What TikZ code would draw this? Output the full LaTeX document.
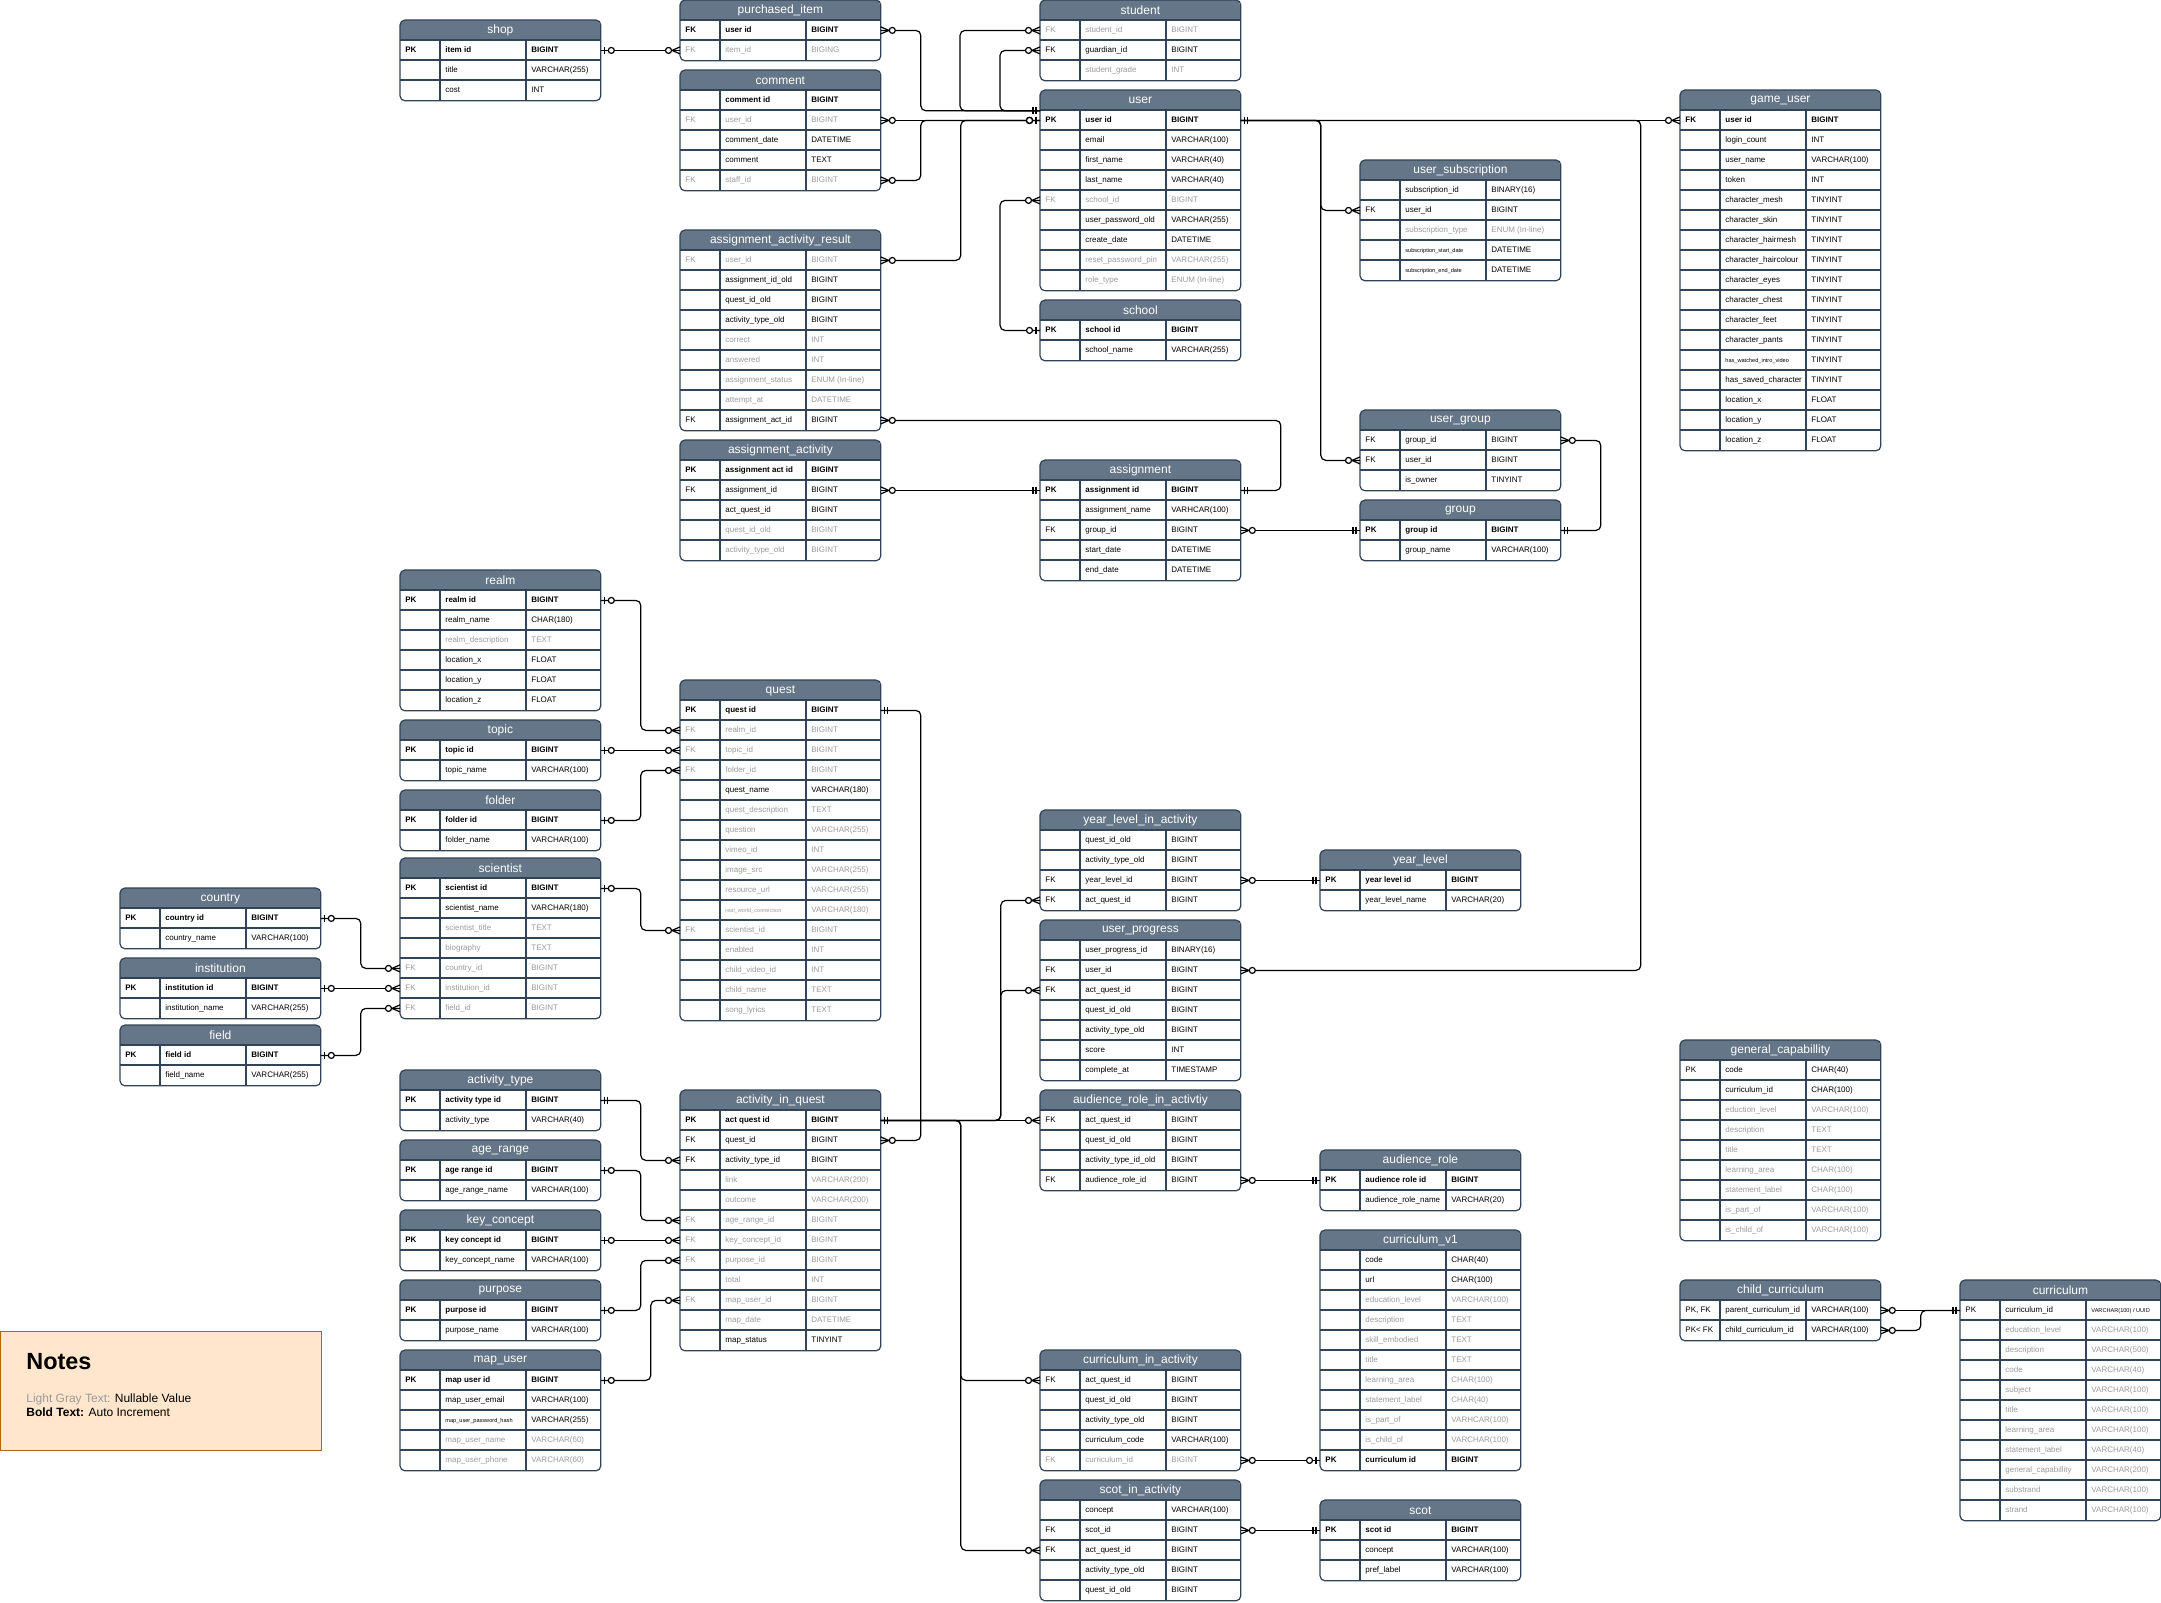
\documentclass[tikz,border=0pt]{standalone}
\usepackage{fontspec}
\setmainfont{Liberation Sans}
\usepackage{tikz}
\usetikzlibrary{calc,decorations.markings}
\usepackage{xcolor}

\definecolor{hdrfill}{HTML}{647687}
\definecolor{tblline}{HTML}{314354}
\definecolor{txtgray}{HTML}{9A9A9A}
\definecolor{notefill}{HTML}{FFE6CC}
\definecolor{noteline}{HTML}{B46504}

\newcommand\rowfont{\fontsize{4}{4.8}\selectfont}
\newcommand\hdfont{\fontsize{6}{7}\selectfont}
\newcommand\smtxt[1]{{\fontsize{2.8}{3.4}\selectfont #1}}
\newcommand\rowfmt[2]{\if b#1\textbf{#2}\else\if g#1\textcolor{txtgray}{#2}\else #2\fi\fi}

% crow's foot ends, #1 = 1 at path end, -1 at path start
\newcommand\mkmany[1]{\draw[sharp corners] (0,3.5) -- ({-8*(#1)},0) -- (0,-3.5);
  \draw[sharp corners, fill=white] ({-11.5*(#1)},0) circle (3);}
\newcommand\mkone[1]{\draw[sharp corners] ({-4*(#1)},-3.5) -- ({-4*(#1)},3.5) ({-7*(#1)},-3.5) -- ({-7*(#1)},3.5);}
\newcommand\mkzone[1]{\draw[sharp corners] ({-4*(#1)},-3.5) -- ({-4*(#1)},3.5);
  \draw[sharp corners, fill=white] ({-10.5*(#1)},0) circle (3);}

% table: name, x, y, title, rows key/name/type/style
\newcommand\ertable[5]{%
  \fill[hdrfill, rounded corners=2.5pt] (#2,#3) rectangle ++(200,20);
  \fill[hdrfill] (#2,{#3+10}) rectangle ++(200,10);
  \node[tblhead, anchor=north west] (#1) at (#2,#3) {#4};
  \foreach \cK/\cN/\cT/\cS [count=\i] in {#5}{%
    \node[rowbox, anchor=north west] (#1-\i) at (#2,{#3+20*\i}) {};
    \draw[tblrule] (#1-\i.north west) -- (#1-\i.north east);
    \node[celltxt] (#1-\i-k) at ($(#1-\i.west)+(5,0)$) {\rowfmt{\cS}{\cK}};
    \node[celltxt] (#1-\i-n) at ($(#1-\i.west)+(45,0)$) {\rowfmt{\cS}{\cN}};
    \node[celltxt] (#1-\i-t) at ($(#1-\i.west)+(131,0)$) {\rowfmt{\cS}{\cT}};
    \xdef\ernrows{\i}%
  }
  \draw[tblrule] ($(#1-1.north west)+(40,0)$) -- ($(#1-\ernrows.south west)+(40,0)$)
    ($(#1-1.north west)+(126,0)$) -- ($(#1-\ernrows.south west)+(126,0)$);
  \draw[tblrule, rounded corners=2.5pt] (#1.north west) rectangle (#1-\ernrows.south east);
}

\begin{document}
\catcode`\_=12
\begin{tikzpicture}[
    x=0.5pt, y=-0.5pt,
    tblhead/.style={minimum width=100pt, minimum height=10pt, inner sep=0pt, text=white, font=\hdfont},
    rowbox/.style={minimum width=100pt, minimum height=10pt, inner sep=0pt},
    celltxt/.style={anchor=west, inner sep=0pt, font=\rowfont, text height=3pt, text depth=1pt},
    tblrule/.style={draw=tblline, line width=0.6pt},
    rel/.style={draw=black, line width=0.6pt, rounded corners=2.5pt},
    zm-s/.style={postaction={decorate, decoration={markings, mark=at position 0 with {\mkmany{-1}}}}},
    zm-e/.style={postaction={decorate, decoration={markings, mark=at position 1 with {\mkmany{1}}}}},
    mo-s/.style={postaction={decorate, decoration={markings, mark=at position 0 with {\mkone{-1}}}}},
    mo-e/.style={postaction={decorate, decoration={markings, mark=at position 1 with {\mkone{1}}}}},
    zo-s/.style={postaction={decorate, decoration={markings, mark=at position 0 with {\mkzone{-1}}}}},
    zo-e/.style={postaction={decorate, decoration={markings, mark=at position 1 with {\mkzone{1}}}}},
    notebox/.style={draw=noteline, fill=notefill, line width=0.6pt, minimum width=160.5pt, minimum height=59.5pt, inner sep=0pt}
]
    \useasboundingbox (0,0) rectangle (2161,1602);

    % User side
    \ertable{shop}{400}{20}{shop}{PK/item id/BIGINT/b,/title/VARCHAR(255)/n,/cost/INT/n}
    \ertable{pitem}{680}{0}{purchased_item}{FK/user id/BIGINT/b,FK/item_id/BIGING/g}
    \ertable{comment}{680}{70}{comment}{/comment id/BIGINT/b,FK/user_id/BIGINT/g,/comment_date/DATETIME/n,/comment/TEXT/n,FK/staff_id/BIGINT/g}
    \ertable{aar}{680}{230}{assignment_activity_result}{FK/user_id/BIGINT/g,/assignment_id_old/BIGINT/n,/quest_id_old/BIGINT/n,/activity_type_old/BIGINT/n,/correct/INT/g,/answered/INT/g,/assignment_status/ENUM (In-line)/g,/attempt_at/DATETIME/g,FK/assignment_act_id/BIGINT/n}
    \ertable{aact}{680}{440}{assignment_activity}{PK/assignment act id/BIGINT/b,FK/assignment_id/BIGINT/n,/act_quest_id/BIGINT/n,/quest_id_old/BIGINT/g,/activity_type_old/BIGINT/g}
    \ertable{student}{1040}{0}{student}{FK/student_id/BIGINT/g,FK/guardian_id/BIGINT/n,/student_grade/INT/g}
    \ertable{user}{1040}{90}{user}{PK/user id/BIGINT/b,/email/VARCHAR(100)/n,/first_name/VARCHAR(40)/n,/last_name/VARCHAR(40)/n,FK/school_id/BIGINT/g,/user_password_old/VARCHAR(255)/n,/create_date/DATETIME/n,/reset_password_pin/VARCHAR(255)/g,/role_type/ENUM (In-line)/g}
    \ertable{school}{1040}{300}{school}{PK/school id/BIGINT/b,/school_name/VARCHAR(255)/n}
    \ertable{assign}{1040}{460}{assignment}{PK/assignment id/BIGINT/b,/assignment_name/VARHCAR(100)/n,FK/group_id/BIGINT/n,/start_date/DATETIME/n,/end_date/DATETIME/n}
    \ertable{usub}{1360}{160}{user_subscription}{/subscription_id/BINARY(16)/n,FK/user_id/BIGINT/n,/subscription_type/ENUM (In-line)/g,/\smtxt{subscription_start_date}/DATETIME/n,/\smtxt{subscription_end_date}/DATETIME/n}
    \ertable{ugroup}{1360}{410}{user_group}{FK/group_id/BIGINT/n,FK/user_id/BIGINT/n,/is_owner/TINYINT/n}
    \ertable{group}{1360}{500}{group}{PK/group id/BIGINT/b,/group_name/VARCHAR(100)/n}
    \ertable{guser}{1680}{90}{game_user}{FK/user id/BIGINT/b,/login_count/INT/n,/user_name/VARCHAR(100)/n,/token/INT/n,/character_mesh/TINYINT/n,/character_skin/TINYINT/n,/character_hairmesh/TINYINT/n,/character_haircolour/TINYINT/n,/character_eyes/TINYINT/n,/character_chest/TINYINT/n,/character_feet/TINYINT/n,/character_pants/TINYINT/n,/\smtxt{has_watched_intro_video}/TINYINT/n,/has_saved_character/TINYINT/n,/location_x/FLOAT/n,/location_y/FLOAT/n,/location_z/FLOAT/n}

    % Quest side
    \ertable{realm}{400}{570}{realm}{PK/realm id/BIGINT/b,/realm_name/CHAR(180)/n,/realm_description/TEXT/g,/location_x/FLOAT/n,/location_y/FLOAT/n,/location_z/FLOAT/n}
    \ertable{topic}{400}{720}{topic}{PK/topic id/BIGINT/b,/topic_name/VARCHAR(100)/n}
    \ertable{folder}{400}{790}{folder}{PK/folder id/BIGINT/b,/folder_name/VARCHAR(100)/n}
    \ertable{sci}{400}{858}{scientist}{PK/scientist id/BIGINT/b,/scientist_name/VARCHAR(180)/n,/scientist_title/TEXT/g,/biography/TEXT/g,FK/country_id/BIGINT/g,FK/institution_id/BIGINT/g,FK/field_id/BIGINT/g}
    \ertable{country}{120}{888}{country}{PK/country id/BIGINT/b,/country_name/VARCHAR(100)/n}
    \ertable{inst}{120}{958}{institution}{PK/institution id/BIGINT/b,/institution_name/VARCHAR(255)/n}
    \ertable{field}{120}{1025}{field}{PK/field id/BIGINT/b,/field_name/VARCHAR(255)/n}
    \ertable{quest}{680}{680}{quest}{PK/quest id/BIGINT/b,FK/realm_id/BIGINT/g,FK/topic_id/BIGINT/g,FK/folder_id/BIGINT/g,/quest_name/VARCHAR(180)/n,/quest_description/TEXT/g,/question/VARCHAR(255)/g,/vimeo_id/INT/g,/image_src/VARCHAR(255)/g,/resource_url/VARCHAR(255)/g,/\smtxt{real_world_connection}/VARCHAR(180)/g,FK/scientist_id/BIGINT/g,/enabled/INT/g,/child_video_id/INT/g,/child_name/TEXT/g,/song_lyrics/TEXT/g}

    % Activity side
    \ertable{atype}{400}{1070}{activity_type}{PK/activity type id/BIGINT/b,/activity_type/VARCHAR(40)/n}
    \ertable{arange}{400}{1140}{age_range}{PK/age range id/BIGINT/b,/age_range_name/VARCHAR(100)/n}
    \ertable{kconcept}{400}{1210}{key_concept}{PK/key concept id/BIGINT/b,/key_concept_name/VARCHAR(100)/n}
    \ertable{purpose}{400}{1280}{purpose}{PK/purpose id/BIGINT/b,/purpose_name/VARCHAR(100)/n}
    \ertable{mapuser}{400}{1350}{map_user}{PK/map user id/BIGINT/b,/map_user_email/VARCHAR(100)/n,/\smtxt{map_user_password_hash}/VARCHAR(255)/n,/map_user_name/VARCHAR(60)/g,/map_user_phone/VARCHAR(60)/g}
    \ertable{aiq}{680}{1090}{activity_in_quest}{PK/act quest id/BIGINT/b,FK/quest_id/BIGINT/n,FK/activity_type_id/BIGINT/n,/link/VARCHAR(200)/g,/outcome/VARCHAR(200)/g,FK/age_range_id/BIGINT/g,FK/key_concept_id/BIGINT/g,FK/purpose_id/BIGINT/g,/total/INT/g,FK/map_user_id/BIGINT/g,/map_date/DATETIME/g,/map_status/TINYINT/n}
    \ertable{yla}{1040}{810}{year_level_in_activity}{/quest_id_old/BIGINT/n,/activity_type_old/BIGINT/n,FK/year_level_id/BIGINT/n,FK/act_quest_id/BIGINT/n}
    \ertable{ylevel}{1320}{850}{year_level}{PK/year level id/BIGINT/b,/year_level_name/VARCHAR(20)/n}
    \ertable{uprog}{1040}{920}{user_progress}{/user_progress_id/BINARY(16)/n,FK/user_id/BIGINT/n,FK/act_quest_id/BIGINT/n,/quest_id_old/BIGINT/n,/activity_type_old/BIGINT/n,/score/INT/n,/complete_at/TIMESTAMP/n}
    \ertable{aria}{1040}{1090}{audience_role_in_activtiy}{FK/act_quest_id/BIGINT/n,/quest_id_old/BIGINT/n,/activity_type_id_old/BIGINT/n,FK/audience_role_id/BIGINT/n}
    \ertable{arole}{1320}{1150}{audience_role}{PK/audience role id/BIGINT/b,/audience_role_name/VARCHAR(20)/n}
    \ertable{cv1}{1320}{1230}{curriculum_v1}{/code/CHAR(40)/n,/url/CHAR(100)/n,/education_level/VARCHAR(100)/g,/description/TEXT/g,/skill_embodied/TEXT/g,/title/TEXT/g,/learning_area/CHAR(100)/g,/statement_label/CHAR(40)/g,/is_part_of/VARHCAR(100)/g,/is_child_of/VARCHAR(100)/g,PK/curriculum id/BIGINT/b}
    \ertable{cia}{1040}{1350}{curriculum_in_activity}{FK/act_quest_id/BIGINT/n,/quest_id_old/BIGINT/n,/activity_type_old/BIGINT/n,/curriculum_code/VARCHAR(100)/n,FK/curriculum_id/BIGINT/g}
    \ertable{sia}{1040}{1480}{scot_in_activity}{/concept/VARCHAR(100)/n,FK/scot_id/BIGINT/n,FK/act_quest_id/BIGINT/n,/activity_type_old/BIGINT/n,/quest_id_old/BIGINT/n}
    \ertable{scot}{1320}{1500}{scot}{PK/scot id/BIGINT/b,/concept/VARCHAR(100)/n,/pref_label/VARCHAR(100)/n}

    % Curriculum side
    \ertable{gcap}{1680}{1040}{general_capabillity}{PK/code/CHAR(40)/n,/curriculum_id/CHAR(100)/n,/eduction_level/VARCHAR(100)/g,/description/TEXT/g,/title/TEXT/g,/learning_area/CHAR(100)/g,/statement_label/CHAR(100)/g,/is_part_of/VARCHAR(100)/g,/is_child_of/VARCHAR(100)/g}
    \ertable{ccur}{1680}{1280}{child_curriculum}{{PK, FK}/parent_curriculum_id/VARCHAR(100)/n,PK< FK/child_curriculum_id/VARCHAR(100)/n}
    \ertable{curr}{1960}{1280}{curriculum}{PK/curriculum_id/{\smtxt{VARCHAR(100) / UUID}}/n,/education_level/VARCHAR(100)/g,/description/VARCHAR(500)/g,/code/VARCHAR(40)/g,/subject/VARCHAR(100)/g,/title/VARCHAR(100)/g,/learning_area/VARCHAR(100)/g,/statement_label/VARCHAR(40)/g,/general_capabillity/VARCHAR(200)/g,/substrand/VARCHAR(100)/g,/strand/VARCHAR(100)/g}

    % Relations to user
    \draw[rel, zo-s, zm-e] (shop-1.east) -- (pitem-2.west);
    \draw[rel, zm-s, mo-e] (pitem-1.east) -- ++(40,0) |- (user.south west);
    \draw[rel, zm-s, mo-e] (student-1.west) -- ++(-80,0) |- (user.south west);
    \draw[rel, zm-s, mo-e] (student-2.west) -- ++(-40,0) |- (user.south west);
    \draw[rel, zm-s, zo-e] (comment-2.east) -- (user-1.west);
    \draw[rel, zm-s, zo-e] (comment-5.east) -- ++(40,0) |- (user-1.west);
    \draw[rel, zm-s, zo-e] (aar-1.east) -- ++(80,0) |- (user-1.west);
    \draw[rel, zm-s, zo-e] (user-5.west) -- ++(-40,0) |- (school-1.west);
    \draw[rel, mo-s, zm-e] (user-1.east) -- (guser-1.west);
    \draw[rel, mo-s, zm-e] (user-1.east) -- ++(80,0) |- (usub-2.west);
    \draw[rel, mo-s, zm-e] (user-1.east) -- ++(80,0) |- (ugroup-2.west);
    \draw[rel, mo-s, zm-e] (user-1.east) -- ++(400,0) |- (uprog-2.east);

    % Assignments and groups
    \draw[rel, zm-s, mo-e] (aar-9.east) -| ($(assign-1.east)+(40,0)$) -- (assign-1.east);
    \draw[rel, zm-s, mo-e] (aact-2.east) -- (assign-1.west);
    \draw[rel, zm-s, mo-e] (assign-3.east) -- (group-1.west);
    \draw[rel, zm-s, mo-e] (ugroup-1.east) -| ($(group-1.east)+(40,0)$) -- (group-1.east);

    % Quest lookups
    \draw[rel, zo-s, zm-e] (realm-1.east) -- ++(40,0) |- (quest-2.west);
    \draw[rel, zo-s, zm-e] (topic-1.east) -- (quest-3.west);
    \draw[rel, zo-s, zm-e] (folder-1.east) -- ++(40,0) |- (quest-4.west);
    \draw[rel, zo-s, zm-e] (sci-1.east) -- ++(40,0) |- (quest-12.west);
    \draw[rel, zo-s, zm-e] (country-1.east) -- ++(40,0) |- (sci-5.west);
    \draw[rel, zo-s, zm-e] (inst-1.east) -- (sci-6.west);
    \draw[rel, zo-s, zm-e] (field-1.east) -- ++(40,0) |- (sci-7.west);

    % Activity lookups
    \draw[rel, mo-s, zm-e] (quest-1.east) -- ++(40,0) |- (aiq-2.east);
    \draw[rel, mo-s, zm-e] (atype-1.east) -- ++(40,0) |- (aiq-3.west);
    \draw[rel, zo-s, zm-e] (arange-1.east) -- ++(40,0) |- (aiq-6.west);
    \draw[rel, zo-s, zm-e] (kconcept-1.east) -- (aiq-7.west);
    \draw[rel, zo-s, zm-e] (purpose-1.east) -- ++(40,0) |- (aiq-8.west);
    \draw[rel, zo-s, zm-e] (mapuser-1.east) -- ++(50,0) |- (aiq-10.west);

    % Activity links
    \draw[rel, mo-s, zm-e] (aiq-1.east) -- ++(120,0) |- (yla-4.west);
    \draw[rel, mo-s, zm-e] (aiq-1.east) -- ++(120,0) |- (uprog-3.west);
    \draw[rel, mo-s, zm-e] (aiq-1.east) -- (aria-1.west);
    \draw[rel, mo-s, zm-e] (aiq-1.east) -- ++(80,0) |- (cia-1.west);
    \draw[rel, mo-s, zm-e] (aiq-1.east) -- ++(80,0) |- (sia-3.west);
    \draw[rel, zm-s, mo-e] (yla-3.east) -- (ylevel-1.west);
    \draw[rel, zm-s, mo-e] (aria-4.east) -- (arole-1.west);
    \draw[rel, zm-s, zo-e] (cia-5.east) -- (cv1-11.west);
    \draw[rel, zm-s, mo-e] (sia-2.east) -- (scot-1.west);
    \draw[rel, zm-s, mo-e] (ccur-1.east) -- (curr-1.west);
    \draw[rel, zm-s, mo-e] (ccur-2.east) -- ++(40,0) |- (curr-1.west);

    % Notes
    \node[notebox, anchor=north west] (notes) at (0,1331) {};
    \node[anchor=west, inner sep=0pt, font=\fontsize{11.7}{14}\selectfont\bfseries] (notes-title) at ($(notes.north west)+(26,31)$) {Notes};
    \node[anchor=north west, inner sep=0pt, align=left, font=\fontsize{6}{7}\selectfont] (notes-text) at ($(notes.north west)+(26,62)$) {\textcolor{txtgray}{Light Gray Text:} Nullable Value\\\textbf{Bold Text:} Auto Increment};

\end{tikzpicture}
\end{document}
